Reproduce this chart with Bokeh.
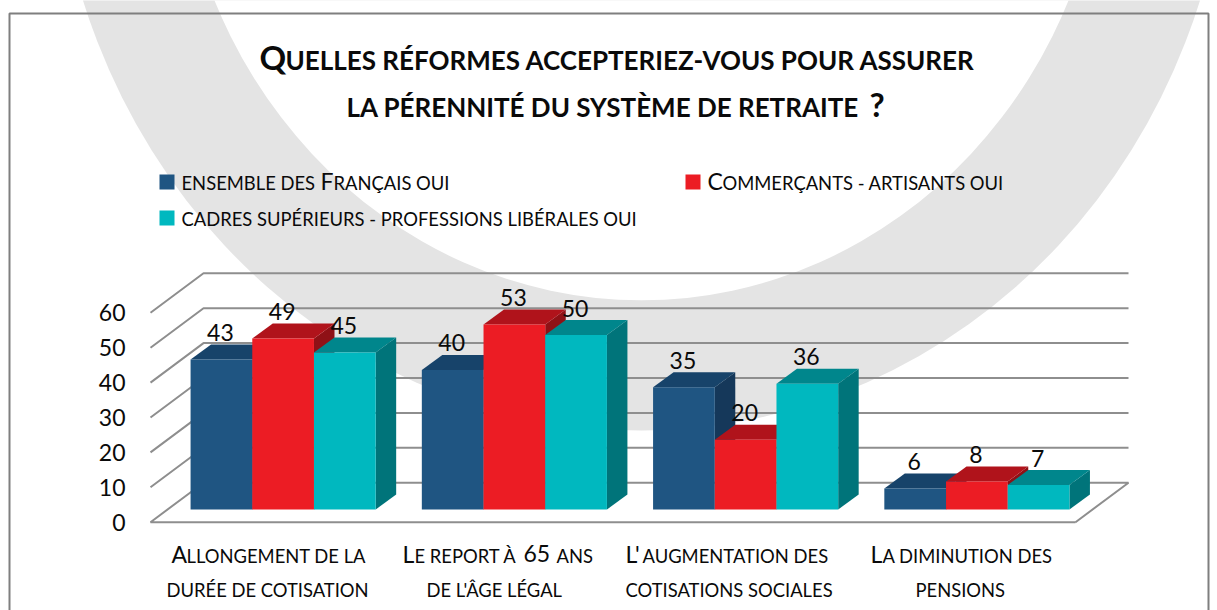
from bokeh.plotting import figure
from bokeh.models import Range1d, LinearAxis, FixedTicker
from bokeh.core.properties import value
from bokeh.embed import file_html
from bokeh.resources import INLINE

# ---- data ----
series_names = ["Ensemble des Français oui", "Commerçants - artisants oui",
                "Cadres supérieurs - professions libérales oui"]
ensemble = [43, 40, 35, 6]
commercants = [49, 53, 20, 8]
cadres = [45, 50, 36, 7]
y_ticks = [0, 10, 20, 30, 40, 50, 60]

FRONT = ["#1F5582", "#EC1C24", "#00B8BF"]
TOP = ["#17436A", "#B0131B", "#00868C"]
SIDE = ["#15385A", "#8F1116", "#00747A"]
GRID = "#8E8E8E"
ARC = "#E4E4E4"
INK = "#0A0A0A"
FONT = "Lato"

W, H = 1217, 610
PX_CAT, PX_VAL = 231.25, 3.49      # pixels per category / per value
X0, Y0 = 150, 521.7                # page pixel of the chart origin

def to_cat(px):
    return (px - X0) / PX_CAT

def to_val(py):
    return (Y0 - py) / PX_VAL

p = figure(width=W, height=H, output_backend="svg", toolbar_location=None,
           x_range=Range1d(to_cat(0), to_cat(W)),
           y_range=Range1d(to_val(H), to_val(0)),
           x_axis_location=None, y_axis_location=None,
           min_border=0, outline_line_color=None, background_fill_color="white")
p.grid.visible = False
p.extra_x_ranges["px"] = Range1d(0, W)
p.extra_y_ranges["px"] = Range1d(H, 0)
PXR = dict(x_range_name="px", y_range_name="px")

# grey ring behind the chart
p.ellipse(x=[641], y=[-200], width=[1178], height=[1260], fill_color=ARC, line_color=None, **PXR)
p.ellipse(x=[641], y=[-200], width=[932], height=[1000], fill_color="white", line_color=None, **PXR)

# frame round the picture
p.line([9, 9, 1208, 1208], [610, 13, 13, 610], line_color="#7F7F7F", line_width=2, **PXR)

# walls and floor of the 3D box
WALL_DX, WALL_DY = 53 / PX_CAT, 39.5 / PX_VAL
n = len(ensemble)
for v in y_ticks:
    xs = [0, WALL_DX, n + WALL_DX]
    ys = [v, v + WALL_DY, v + WALL_DY]
    if v == 0:
        xs = [n, 0] + xs + [n]
        ys = [0, 0] + ys + [0]
    p.line(xs, ys, line_color=GRID, line_width=2)

# oblique bars
BAR_W = 61.7 / PX_CAT
GROUP_START = 0.5 - 1.5 * BAR_W
OFF_X, OFF_Y = 17 / PX_CAT, 12.7 / PX_VAL    # front face relative to floor front
D_X, D_Y = 20.5 / PX_CAT, 15 / PX_VAL        # depth of a bar
lab_x, lab_y, lab_t = [], [], []
for g in range(n):
    for s, vals in enumerate([ensemble, commercants, cadres]):
        v = vals[g]
        l = g + GROUP_START + s * BAR_W + OFF_X
        r = l + BAR_W
        b = OFF_Y
        t = b + v
        p.patch([r, r + D_X, r + D_X, r], [b, b + D_Y, t + D_Y, t],
                fill_color=SIDE[s], line_color=None)
        p.patch([l, l + D_X, r + D_X, r], [t, t + D_Y, t + D_Y, t],
                fill_color=TOP[s], line_color=None)
        p.quad(left=[l], right=[r], bottom=[b], top=[t], fill_color=FRONT[s], line_color=None)
        lab_x.append((l + r) / 2)
        lab_y.append(t)
        lab_t.append(str(v))
p.text(lab_x, lab_y, text=lab_t, text_font=value(FONT), text_font_size="23px",
       text_color=INK, text_align="center", text_baseline="middle", x_offset=-1, y_offset=-27)

# y axis
ax = LinearAxis(ticker=FixedTicker(ticks=y_ticks), fixed_location=to_cat(131),
                axis_line_color=None, major_tick_line_color=None, minor_tick_line_color=None,
                major_label_text_font=FONT, major_label_text_font_size="23px",
                major_label_text_color=INK, major_label_standoff=0)
p.add_layout(ax, "left")

def seg(x, y, text, size, style="normal"):
    """One run of text; y is the middle of the small capitals of the line."""
    p.text([x], [y], text=[text], text_font=value(FONT), text_font_size=f"{size}px",
           text_font_style=style, text_color=INK, text_baseline="middle", **PXR)

def big(x, y, text, size, small, style="normal"):
    """A larger capital sitting on the same baseline as the small capitals."""
    seg(x, y - (size - small) * 0.33, text, size, style)

# title
TS, TB = 26, 33
big(259, 59, "Q", TB, TS, "bold")
seg(285, 59, "UELLES RÉFORMES ACCEPTERIEZ-VOUS POUR ASSURER", TS, "bold")
seg(346, 106, "LA PÉRENNITÉ DU SYSTÈME DE RETRAITE", TS, "bold")
big(869, 106, "?", TB, TS, "bold")

# legend
p.scatter(x=[166.5, 692.5, 166.5], y=[181.5, 181.5, 217.5], marker="square", size=15,
          fill_color=FRONT, line_color=None, **PXR)
S, B = 18.4, 23
seg(181, 182, "ENSEMBLE DES", S)
big(320, 182, "F", B, S)
seg(333, 182, "RANÇAIS OUI", S)
big(707, 182, "C", B, S)
seg(722, 182, "OMMERÇANTS - ARTISANTS OUI", S)
seg(181, 218, "CADRES SUPÉRIEURS - PROFESSIONS LIBÉRALES OUI", S)

# category labels
L1, L2 = 555, 589
big(171, L1, "A", B, S)
seg(186, L1, "LLONGEMENT DE LA", S)
seg(166, L2, "DURÉE DE COTISATION", S)
big(402, L1, "L", B, S)
seg(414, L1, "E REPORT À", S)
big(523, L1, "65", B, S)
seg(556, L1, "ANS", S)
seg(426, L2, "DE L'ÂGE LÉGAL", S)
big(625, L1, "L'", B, S)
seg(642, L1, "AUGMENTATION DES", S)
seg(625, L2, "COTISATIONS SOCIALES", S)
big(870, L1, "L", B, S)
seg(882, L1, "A DIMINUTION DES", S)
seg(915, L2, "PENSIONS", S)

open("out.html", "w").write(file_html(p, INLINE))
